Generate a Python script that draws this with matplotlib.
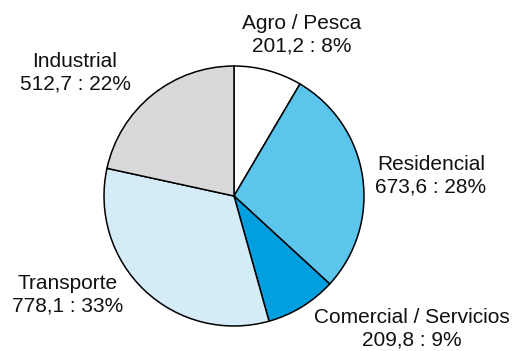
import matplotlib
matplotlib.use('Agg')
import matplotlib.pyplot as plt

plt.rcParams['font.family'] = ['Liberation Sans', 'DejaVu Sans']

sectores = ['Agro / Pesca', 'Residencial', 'Comercial / Servicios', 'Transporte', 'Industrial']
consumo = [201.2, 673.6, 209.8, 778.1, 512.7]
colores = ['#ffffff', '#5bc5ec', '#009fe0', '#d4ebf8', '#d9d9db']

# posiciones de las etiquetas (centro del bloque de texto)
pos_etiquetas = [(302, 316), (431, 175), (412, 22), (68, 56), (75, 278)]

fig = plt.figure(figsize=(5.14, 3.51), dpi=100)
ax = fig.add_axes([0, 0, 1, 1])
ax.set_xlim(0, 514)
ax.set_ylim(0, 351)
ax.set_aspect('equal')
ax.axis('off')

ax.pie(consumo, colors=colores, startangle=90, counterclock=False,
       center=(234, 155), radius=130,
       wedgeprops=dict(edgecolor='black', linewidth=1.1))

total = sum(consumo)
for nombre, v, (x, y) in zip(sectores, consumo, pos_etiquetas):
    texto = nombre + '\n' + f'{v:.1f}'.replace('.', ',') + f' : {v / total * 100:.0f}%'
    ax.text(x, y, texto, ha='center', va='center', fontsize=15, linespacing=1.25,
            color='#111111')

ax.set_xlim(0, 514)
ax.set_ylim(0, 351)
fig.savefig('out.png', dpi=100)
